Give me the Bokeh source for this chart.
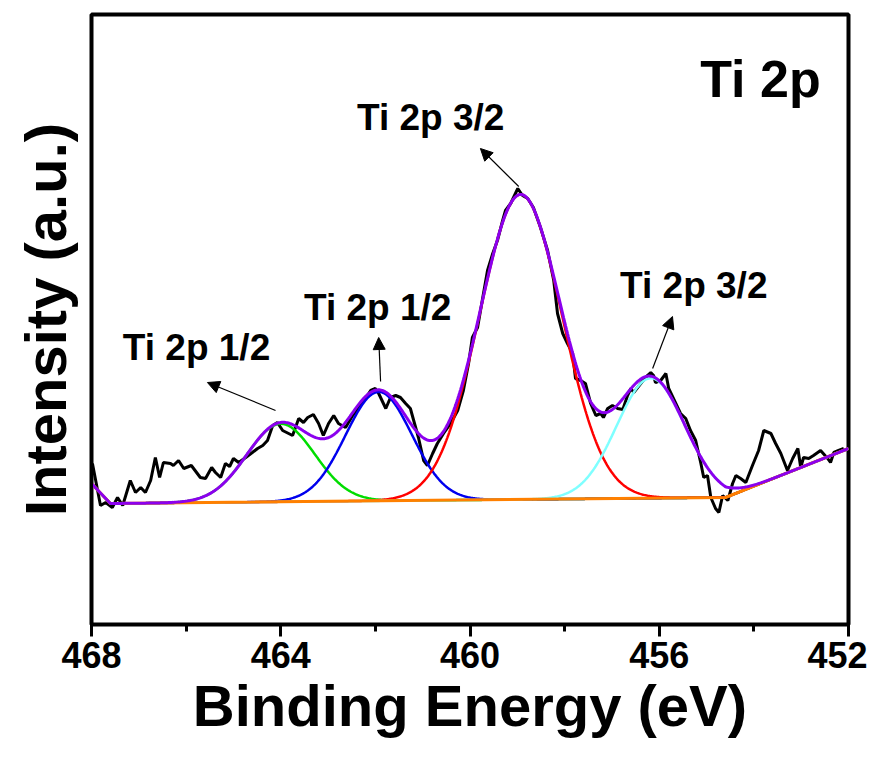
import numpy as np
from bokeh.plotting import figure
from bokeh.models import Range1d, FixedTicker, Arrow, NormalHead, Label
from bokeh.embed import file_html
from bokeh.resources import INLINE

# ---- raw spectrum (binding energy, eV / intensity, a.u.) ----
energy = [467.98, 467.81, 467.70, 467.56, 467.45, 467.34, 467.18, 467.07, 466.96, 466.86,
          466.75, 466.65, 466.56, 466.48, 466.33, 466.27, 466.16, 466.05, 465.89, 465.70,
          465.59, 465.46, 465.38, 465.27, 465.17, 465.08, 465.00, 464.89, 464.74, 464.60,
          464.49, 464.38, 464.28, 464.17, 464.07, 463.96, 463.75, 463.62, 463.52, 463.43,
          463.31, 463.20, 463.10, 462.99, 462.88, 462.78, 462.63, 462.48, 462.35, 462.21,
          462.10, 462.00, 461.93, 461.78, 461.68, 461.57, 461.47, 461.36, 461.26, 461.19,
          461.09, 460.98, 460.90, 460.79, 460.69, 460.56, 460.41, 460.26, 460.14, 460.03,
          459.95, 459.84, 459.73, 459.63, 459.52, 459.42, 459.31, 459.25, 459.14, 459.08,
          458.99, 458.89, 458.78, 458.66, 458.51, 458.36, 458.23, 458.15, 458.04, 457.94,
          457.83, 457.77, 457.66, 457.56, 457.45, 457.34, 457.24, 457.18, 457.09, 456.99,
          456.88, 456.77, 456.67, 456.60, 456.54, 456.39, 456.25, 456.18, 456.12, 456.08,
          455.97, 455.86, 455.80, 455.65, 455.55, 455.44, 455.34, 455.23, 455.12, 455.06,
          454.98, 454.91, 454.81, 454.74, 454.66, 454.55, 454.45, 454.38, 454.28, 454.17,
          454.03, 453.90, 453.79, 453.64, 453.54, 453.43, 453.29, 453.18, 453.07, 453.01,
          452.95, 452.84, 452.74, 452.59, 452.44, 452.38, 452.31, 452.21, 452.10]
intensity = [161, 119, 122, 117, 127, 119, 144, 132, 137, 132,
             144, 167, 147, 162, 161, 159, 164, 156, 159, 147,
             146, 157, 152, 147, 161, 158, 166, 162, 167, 172,
             176, 179, 184, 199, 202, 194, 189, 206, 202, 207,
             210, 201, 189, 201, 209, 201, 197, 209, 217, 226,
             234, 236, 231, 216, 227, 229, 227, 221, 216, 204,
             187, 164, 159, 171, 181, 191, 201, 214, 234, 261,
             287, 297, 327, 354, 371, 384, 404, 414, 421, 427,
             436, 429, 426, 417, 397, 374, 344, 311, 291, 281,
             271, 246, 244, 241, 221, 209, 211, 207, 216, 219,
             216, 215, 229, 236, 232, 241, 249, 252, 249, 242,
             244, 251, 236, 221, 211, 206, 194, 184, 161, 147,
             149, 127, 116, 112, 129, 124, 141, 149, 146, 142,
             159, 174, 194, 191, 181, 171, 154, 166, 176, 157,
             167, 166, 169, 174, 166, 162, 172, 174, 176]

# ---- background (linear segments) ----
bg_energy = [468.0, 467.6, 454.6, 452.0]
bg_intensity = [141, 121, 127, 176]

# ---- fitted peak components ----
peak_names = ["Ti 2p 1/2 (a)", "Ti 2p 1/2 (b)", "Ti 2p 3/2 (a)", "Ti 2p 3/2 (b)"]
peak_centers = [464.00, 461.93, 458.93, 456.18]
peak_heights = [78, 109, 305, 120]
peak_sigmas = [0.72, 0.70, 0.87, 0.72]
peak_colors = ["#00DD00", "#0000EE", "#FF0000", "#7FFFFF"]

FONT = "Liberation Sans"

p = figure(width=867, height=742, x_range=Range1d(468, 452), y_range=Range1d(0, 610),
           output_backend="svg", toolbar_location=None,
           min_border_left=91, min_border_right=19, min_border_top=14, min_border_bottom=118)
p.xgrid.visible = False
p.ygrid.visible = False
p.outline_line_color = "black"
p.outline_line_width = 4
p.background_fill_color = "white"
p.border_fill_color = "white"

# curves
grid = np.linspace(468, 452, 801)
bg_grid = np.interp(grid[::-1], bg_energy[::-1], bg_intensity[::-1])[::-1]

p.line(energy, intensity, line_color="black", line_width=3)

total = bg_grid.copy()
for c, h, s, col in zip(peak_centers, peak_heights, peak_sigmas, peak_colors):
    comp = h * np.exp(-((grid - c) ** 2) / (2 * s * s))
    total = total + comp
    p.line(grid, bg_grid + comp, line_color=col, line_width=2.5)

p.line(bg_energy, bg_intensity, line_color="#FF8000", line_width=3)
p.line(grid, total, line_color="#8B00EE", line_width=3)

# axes
p.xaxis.ticker = FixedTicker(ticks=[468, 464, 460, 456, 452], minor_ticks=[466, 462, 458, 454])
p.xaxis.axis_label = "Binding Energy (eV)"
p.xaxis.axis_line_width = 3
p.xaxis.major_tick_line_width = 3
p.xaxis.minor_tick_line_width = 3
p.xaxis.major_tick_out = 12
p.xaxis.major_tick_in = 0
p.xaxis.minor_tick_out = 7
p.xaxis.minor_tick_in = 0
p.xaxis.major_label_text_font = FONT
p.xaxis.major_label_text_font_style = "bold"
p.xaxis.major_label_text_font_size = "36px"
p.xaxis.major_label_text_color = "black"
p.xaxis.major_label_standoff = 5
p.xaxis.axis_label_text_font = FONT
p.xaxis.axis_label_text_font_style = "bold"
p.xaxis.axis_label_text_font_size = "58px"
p.xaxis.axis_label_text_color = "black"
p.xaxis.axis_label_standoff = 2

p.yaxis.ticker = FixedTicker(ticks=[])
p.yaxis.axis_label = "Intensity (a.u.)"
p.yaxis.axis_line_width = 3
p.yaxis.major_tick_line_color = None
p.yaxis.minor_tick_line_color = None
p.yaxis.axis_label_text_font = FONT
p.yaxis.axis_label_text_font_style = "bold"
p.yaxis.axis_label_text_font_size = "58px"
p.yaxis.axis_label_text_color = "black"
p.yaxis.axis_label_standoff = 14

# annotations
def add_label(x, y, text, size):
    p.add_layout(Label(x=x, y=y, text=text, text_font=FONT, text_font_style="bold",
                       text_font_size=size, text_align="center", text_baseline="alphabetic",
                       text_color="black"))

add_label(453.86, 546, "Ti 2p", "52px")
add_label(460.83, 507, "Ti 2p 3/2", "37px")
add_label(455.27, 339, "Ti 2p 3/2", "37px")
add_label(461.95, 317, "Ti 2p 1/2", "37px")
add_label(465.78, 277, "Ti 2p 1/2", "37px")

arrows = [((464.11, 214), (465.55, 242)),
          ((461.89, 243), (461.93, 287)),
          ((458.97, 438), (459.78, 476)),
          ((456.14, 256), (455.72, 308))]
for (x0, y0), (x1, y1) in arrows:
    p.add_layout(Arrow(x_start=x0, y_start=y0, x_end=x1, y_end=y1, line_width=1.2,
                       line_color="black",
                       end=NormalHead(size=12, fill_color="black", line_color="black")))

open("out.html", "w").write(file_html(p, INLINE))
